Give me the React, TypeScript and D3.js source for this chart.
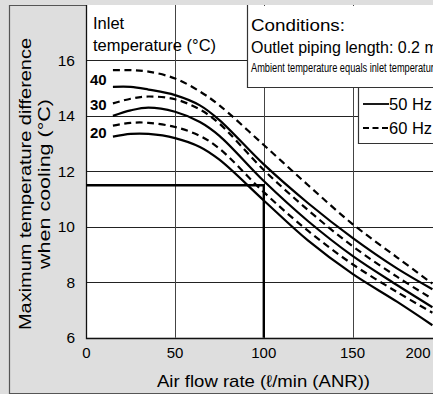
import React from "react";
import * as d3 from "d3";

// air flow rate (l/min ANR)
const flow = [15, 25, 35, 50, 64, 75, 100, 125, 150, 175, 195];

// max temperature difference when cooling (°C), per inlet temperature / frequency
const hz50_40 = [15.05, 15.05, 14.95, 14.75, 14.38, 13.85, 12.25, 10.85, 9.6, 8.5, 7.75];
const hz50_30 = [14.0, 14.2, 14.3, 14.15, 13.78, 13.28, 11.65, 10.2, 8.95, 7.9, 7.1];
const hz50_20 = [13.25, 13.35, 13.35, 13.2, 12.88, 12.42, 10.95, 9.5, 8.3, 7.3, 6.45];
const hz60_40 = [15.65, 15.65, 15.6, 15.35, 14.88, 14.38, 12.95, 11.5, 10.1, 8.9, 7.95];
const hz60_30 = [14.45, 14.62, 14.7, 14.6, 14.23, 13.72, 12.05, 10.6, 9.3, 8.2, 7.4];
const hz60_20 = [13.65, 13.75, 13.75, 13.6, 13.28, 12.82, 11.25, 9.85, 8.65, 7.65, 6.9];

const inletLabels = ["40", "30", "20"];
const inletLabelAt = [15.3, 14.4, 13.4];
const xTicks = [0, 50, 100, 150, 200];
const yTicks = [6, 8, 10, 12, 14, 16];

// example reading shown on the chart
const readFlow = 100;
const readDiff = 11.5;

const FONT = "'Liberation Sans', Arial, Helvetica, sans-serif";

export default function App() {
    const ref = React.useRef<SVGSVGElement>(null);

    React.useEffect(() => {
        const svg = d3.select(ref.current);
        svg.selectAll("*").remove();

        const x = d3.scaleLinear().domain([0, 200]).range([86.3, 441.3]);
        const y = d3.scaleLinear().domain([6, 18]).range([337.7, 5]);

        // gray frame
        svg.append("rect").attr("width", 433).attr("height", 394).attr("fill", "#dedede");
        svg.append("path")
            .attr("d", "M433,5.5 H9.5 V393.5 H433")
            .attr("fill", "none")
            .attr("stroke", "#555")
            .attr("stroke-width", 1.2);

        // plot area
        svg.append("rect")
            .attr("x", x(0))
            .attr("y", y(18))
            .attr("width", 433 - x(0))
            .attr("height", y(6) - y(18))
            .attr("fill", "#fff");

        const grid = svg.append("g").attr("stroke", "#222").attr("stroke-width", 1);
        grid.selectAll(".h")
            .data(yTicks.slice(1))
            .join("line")
            .attr("x1", x(0))
            .attr("x2", 433)
            .attr("y1", (d) => Math.round(y(d)) + 0.5)
            .attr("y2", (d) => Math.round(y(d)) + 0.5);
        grid.selectAll(".v")
            .data(xTicks.slice(1))
            .join("line")
            .attr("x1", (d) => Math.round(x(d)) + 0.5)
            .attr("x2", (d) => Math.round(x(d)) + 0.5)
            .attr("y1", y(18))
            .attr("y2", y(6))
            .attr("stroke", "#444");

        // axes lines
        svg.append("path")
            .attr("d", `M${Math.round(x(0)) + 0.5},${y(18)} V${Math.round(y(6)) + 0.5} H433`)
            .attr("fill", "none")
            .attr("stroke", "#111")
            .attr("stroke-width", 1.3);

        // reading lines
        svg.append("path")
            .attr("d", `M${x(0)},${y(readDiff)} H${x(readFlow)} V${y(6)}`)
            .attr("fill", "none")
            .attr("stroke", "#000")
            .attr("stroke-width", 2.4);

        const line = d3
            .line<number>()
            .x((d, i) => x(flow[i]))
            .y((d) => y(d))
            .curve(d3.curveCatmullRom.alpha(0.5));

        const series = [
            { v: hz60_40, dash: "7,4.5" },
            { v: hz50_40, dash: null },
            { v: hz60_30, dash: "7,4.5" },
            { v: hz50_30, dash: null },
            { v: hz60_20, dash: "7,4.5" },
            { v: hz50_20, dash: null },
        ];
        svg.append("g")
            .selectAll("path")
            .data(series)
            .join("path")
            .attr("d", (d) => line(d.v))
            .attr("fill", "none")
            .attr("stroke", "#000")
            .attr("stroke-width", 2.2)
            .attr("stroke-dasharray", (d) => d.dash);

        // inlet temperature labels
        svg.append("g")
            .selectAll("text")
            .data(inletLabels)
            .join("text")
            .attr("x", 90)
            .attr("y", (d, i) => y(inletLabelAt[i]) + 5.5)
            .attr("font-family", FONT)
            .attr("font-weight", "bold")
            .attr("font-size", 15)
            .text((d) => d);

        svg.append("text")
            .attr("x", 93)
            .attr("y", 29)
            .attr("font-family", FONT)
            .attr("font-size", 16.5)
            .text("Inlet");
        svg.append("text")
            .attr("x", 93)
            .attr("y", 51)
            .attr("font-family", FONT)
            .attr("font-size", 16.5)
            .text("temperature (°C)");

        // conditions box
        svg.append("rect").attr("x", 247).attr("y", 6).attr("width", 190).attr("height", 81.5).attr("fill", "#fff");
        svg.append("path")
            .attr("d", "M247.5,5 V87.5 H433")
            .attr("fill", "none")
            .attr("stroke", "#333")
            .attr("stroke-width", 1.2);
        svg.append("text")
            .attr("x", 251)
            .attr("y", 31)
            .attr("font-family", FONT)
            .attr("font-size", 16.5)
            .attr("textLength", 94)
            .attr("lengthAdjust", "spacingAndGlyphs")
            .text("Conditions:");
        svg.append("text")
            .attr("x", 251)
            .attr("y", 53)
            .attr("font-family", FONT)
            .attr("font-size", 16)
            .text("Outlet piping length: 0.2 m");
        svg.append("text")
            .attr("x", 251)
            .attr("y", 72)
            .attr("font-family", FONT)
            .attr("font-size", 12)
            .attr("textLength", 188)
            .attr("lengthAdjust", "spacingAndGlyphs")
            .text("Ambient temperature equals inlet temperature");

        // legend
        svg.append("rect").attr("x", 358).attr("y", 88).attr("width", 80).attr("height", 55).attr("fill", "#fff");
        svg.append("path")
            .attr("d", "M358.5,88 V143.5 H433")
            .attr("fill", "none")
            .attr("stroke", "#333")
            .attr("stroke-width", 1.2);
        const legend = [
            { name: "50 Hz", dash: null, yy: 104 },
            { name: "60 Hz", dash: "6,3.5", yy: 128 },
        ];
        legend.forEach((l) => {
            svg.append("line")
                .attr("x1", 363)
                .attr("x2", 389)
                .attr("y1", l.yy)
                .attr("y2", l.yy)
                .attr("stroke", "#000")
                .attr("stroke-width", 1.8)
                .attr("stroke-dasharray", l.dash);
            svg.append("text")
                .attr("x", 389)
                .attr("y", l.yy + 6)
                .attr("font-family", FONT)
                .attr("font-size", 16.5)
                .text(l.name);
        });

        // tick labels
        svg.append("g")
            .selectAll("text")
            .data(yTicks)
            .join("text")
            .attr("x", 75)
            .attr("y", (d) => y(d) + 5.5)
            .attr("text-anchor", "end")
            .attr("font-family", FONT)
            .attr("font-size", 15.5)
            .text((d) => d);
        svg.append("g")
            .selectAll("text")
            .data(xTicks)
            .join("text")
            .attr("x", (d) => Math.min(x(d), 418))
            .attr("y", 358)
            .attr("text-anchor", "middle")
            .attr("font-family", FONT)
            .attr("font-size", 15)
            .text((d) => d);

        // axis titles
        svg.append("text")
            .attr("x", 263.5)
            .attr("y", 387)
            .attr("text-anchor", "middle")
            .attr("font-family", FONT)
            .attr("font-size", 17)
            .attr("textLength", 213)
            .attr("lengthAdjust", "spacingAndGlyphs")
            .text("Air flow rate (ℓ/min (ANR))");
        const yt = svg
            .append("text")
            .attr("transform", "translate(0,184) rotate(-90)")
            .attr("font-family", FONT)
            .attr("font-size", 16.5);
        yt.append("tspan")
            .attr("x", -146)
            .attr("y", 31)
            .attr("textLength", 292)
            .attr("lengthAdjust", "spacingAndGlyphs")
            .text("Maximum temperature difference");
        yt.append("tspan")
            .attr("x", -85)
            .attr("y", 50)
            .attr("textLength", 170)
            .attr("lengthAdjust", "spacingAndGlyphs")
            .text("when cooling (°C)");
    }, []);

    return (
        <svg
            ref={ref}
            width={433}
            height={394}
            style={{ position: "absolute", left: 0, top: 0 }}
        />
    );
}
